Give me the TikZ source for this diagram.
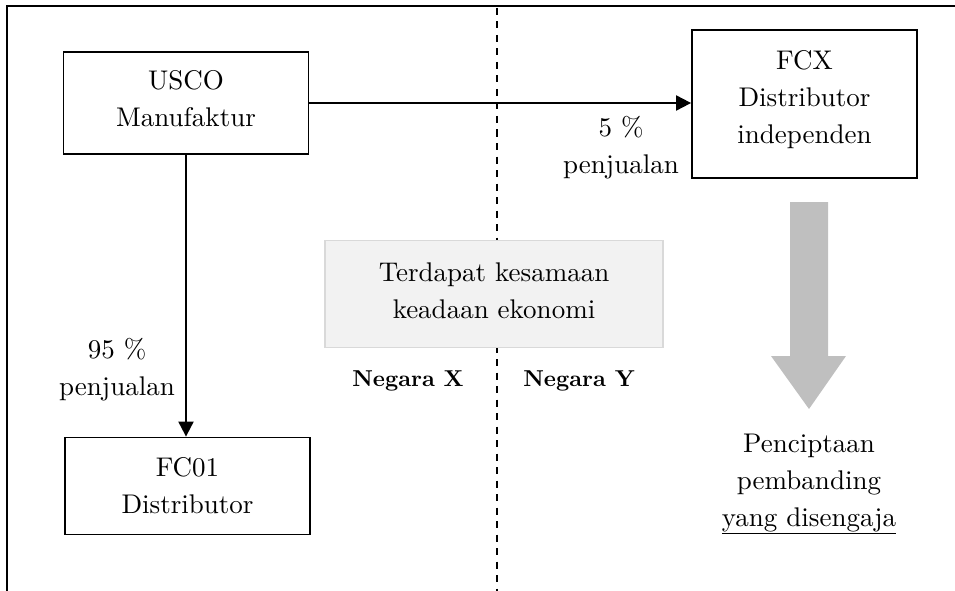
\documentclass[tikz,border=0pt]{standalone}
\usepackage{fontspec}
\setmainfont{lmroman10-regular.otf}[BoldFont=lmroman10-bold.otf, ItalicFont=lmroman10-italic.otf]
\usepackage{xcolor}
\usepackage{tikz}
\usetikzlibrary{positioning,arrows.meta}
\tikzset{
  txt/.style={font=\fontsize{27}{37}\selectfont, align=center, inner sep=0pt},
  entity/.style={txt, draw, line width=1.8pt, fill=white},
  flow/.style={line width=2pt, -{Triangle[length=15pt,width=15pt]}}
}

\begin{document}
\begin{tikzpicture}[x=1pt, y=-1pt]
\useasboundingbox (0,0) rectangle (955,591);
% frame and border between the two countries
\draw[line width=2pt] (7,591) -- (7,6) -- (955,6);
\draw[line width=2pt, dash pattern=on 7pt off 6.5pt] (497,8) -- (497,591);

% companies
\node[entity, text depth=10pt, minimum width=245pt, minimum height=102pt] (usco) at (186,103) {USCO\\Manufaktur};
\node[entity, minimum width=245pt, minimum height=97pt] (fc01) at (187.5,486) {FC01\\Distributor};
\node[entity, text depth=15pt, minimum width=225pt, minimum height=148pt] (fcx) at (804.5,104) {FCX\\Distributor\\independen};

% sales flows
\draw[flow] (usco.east) -- (usco.east -| fcx.west);
\draw[flow] (usco.south) -- (usco.south |- fc01.north);
\node[txt] (pct5) at (621,148) {5 \%\\penjualan};
\node[txt] (pct95) at (117,370) {95 \%\\penjualan};

% same economic situation
\node[txt, text depth=6pt, draw=gray!30, line width=1.3pt, fill=gray!10, minimum width=338pt, minimum height=107pt] (ekonomi) at (494,294) {Terdapat kesamaan\\keadaan ekonomi};
\node[txt, font=\fontsize{23}{30}\selectfont\bfseries] (negx) at (408,381) {Negara X};
\node[txt, font=\fontsize{23}{30}\selectfont\bfseries] (negy) at (579,381) {Negara Y};

% created comparable
\fill[gray!50] (790,202) -- (828,202) -- (828,356) -- (846,356) -- (809,409) -- (771,356) -- (790,356) -- cycle;
\node[txt] (cipta) at (809,484) {Penciptaan\\pembanding\\\underline{yang disengaja}};
\end{tikzpicture}
\end{document}
